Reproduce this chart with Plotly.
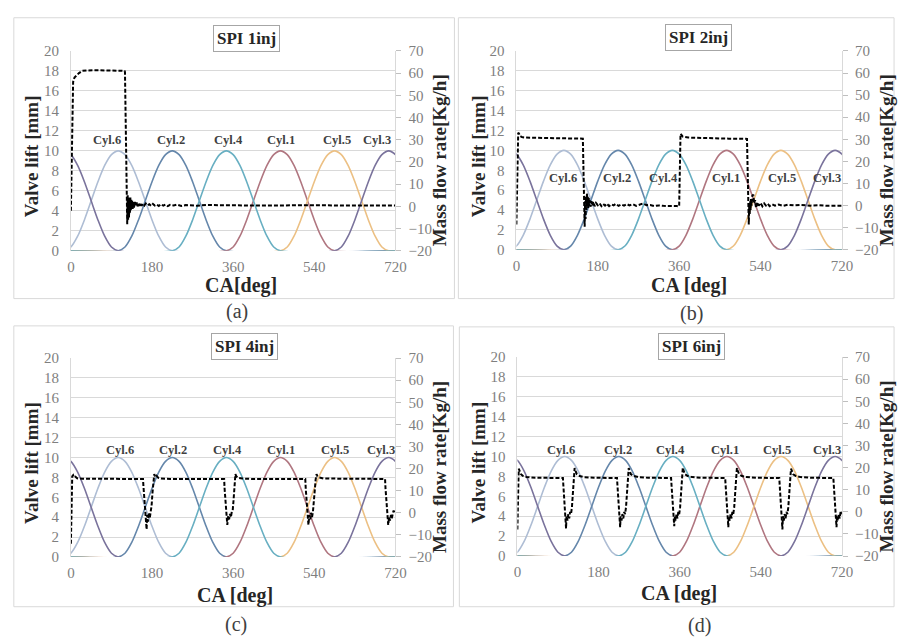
import plotly.graph_objects as go

# ---------------- data ----------------
PANEL_TITLES = ["SPI 1inj", "SPI 2inj", "SPI 4inj", "SPI 6inj"]
PANEL_TAGS = ["(a)", "(b)", "(c)", "(d)"]
X_TITLES = ["CA[deg]", "CA [deg]", "CA [deg]", "CA [deg]"]
X_TICKS = [0, 180, 360, 540, 720]
LEFT_TICKS = [0, 2, 4, 6, 8, 10, 12, 14, 16, 18, 20]
RIGHT_TICKS = [-20, -10, 0, 10, 20, 30, 40, 50, 60, 70]

# valve-lift profile: lift [mm] every 15 deg from opening (240 deg window)
LIFT_STEP_DEG = 15
LIFT_PROFILE = [0, 0.38, 1.46, 3.09, 5.0, 6.91, 8.54, 9.62, 10.0,
                9.62, 8.54, 6.91, 5.0, 3.09, 1.46, 0.38, 0]
CYL_NAMES = ["Cyl.6", "Cyl.2", "Cyl.1", "Cyl.5", "Cyl.3", "Cyl.4"]
CYL_PEAKS = {"Cyl.6": [105], "Cyl.2": [225], "Cyl.4": [345],
             "Cyl.1": [465], "Cyl.5": [585], "Cyl.3": [-15, 705]}
CYL_COLORS = {"Cyl.6": "#aebdd4", "Cyl.2": "#6587ab", "Cyl.4": "#68afc2",
              "Cyl.1": "#b07680", "Cyl.5": "#ecc084", "Cyl.3": "#7a739c"}

# cylinder label positions (deg, valve-lift units) per panel
CYL_LABEL_ORDER = ["Cyl.6", "Cyl.2", "Cyl.4", "Cyl.1", "Cyl.5", "Cyl.3"]
CYL_LABEL_X = [
    [81, 222, 349, 467, 590, 680],
    [104, 223, 326, 463, 587, 687],
    [109, 227, 347, 467, 585, 688],
    [96, 223, 340, 460, 576, 687],
]
CYL_LABEL_Y = [11.1, 7.2, 10.8, 10.7]

# mass flow rate [kg/h] vs crank angle (deg)
FLOW_1INJ = [(0, -2), (1, 10), (2, 30), (3, 48), (5, 56), (8, 58), (12, 59), (18, 60), (25, 61),
             (35, 61.2), (60, 61.3), (90, 61.2), (110, 61), (119, 61), (120, 60.5), (121, 45),
             (122, 20), (123, 5), (124, -4), (125, -8), (126, 5), (127, -6), (128, 4), (129, -5),
             (130, 2), (131, -3), (132, 4), (133, -2), (134, 3), (135, -1), (136, 2.5), (137, -1.5),
             (138, 2), (140, -0.5), (142, 2), (144, 0), (146, 1.8), (148, 0), (150, 1.5), (152, 0.2),
             (154, 1.6), (157, 0.3), (160, 1.2), (163, 0.4), (166, 1.3), (170, 0.5), (174, 1.0),
             (178, 0.2), (182, 1.1), (186, 0.4), (190, 0.9), (195, 0.2), (200, 1.0), (205, 0.3),
             (210, 0.8), (215, 0.1), (220, 0.7), (228, 0.4), (236, 0.8), (245, 0.2), (255, 0.6),
             (265, 0.5), (280, 0.3), (300, 0.6), (330, 0.4), (360, 0.5), (400, 0.4), (450, 0.5),
             (500, 0.4), (550, 0.5), (600, 0.4), (650, 0.5), (720, 0.4)]

FLOW_2INJ = [(0, -8.5), (1, 5), (2, 20), (3, 30), (4, 33), (6, 32.5), (8, 31.5), (12, 31),
             (20, 30.8), (60, 30.6), (100, 30.5), (140, 30.4), (147, 30.3), (148, 20), (149, 5),
             (150, -3), (151, -9.5), (152, 2), (153, -6), (154, 4), (155, -2), (156, 5.5), (157, 0),
             (158, 4), (159, -1), (160, 3.5), (161, 0), (162, 2.5), (164, -0.5), (166, 2), (168, 0),
             (170, 1.8), (173, -0.3), (176, 1.2), (180, 0.2), (184, 1), (188, -0.2), (192, 0.8),
             (196, 0), (200, 0.9), (205, -0.2), (210, 0.6), (215, 0.1), (220, 0.8), (226, -0.1),
             (232, 0.5), (238, 0), (244, 0.7), (250, 0.1), (258, 0.6), (265, -0.1), (272, 0.4),
             (280, 1), (288, 0.2), (296, 0.3), (305, -0.2), (315, 0.1), (325, -0.1), (340, 0),
             (355, -0.2), (360, -0.3), (361, 15), (362, 30), (363, 32.5), (365, 32), (368, 31.2),
             (380, 30.8), (420, 30.5), (470, 30.3), (510, 30.2), (511, 20), (512, 5), (513, -3),
             (514, -8.5), (515, 1), (516, -4), (517, 2), (518, -2), (519, 3), (520, 0), (522, 4.5),
             (524, 5), (526, 1), (528, 2.5), (530, -1), (533, 1.5), (536, 0), (540, 1.2),
             (544, -0.3), (548, 1), (552, 0), (556, 0.8), (560, -0.2), (566, 0.6), (572, 0),
             (580, 0.5), (590, -0.1), (600, 0.4), (615, 0.1), (630, 0.3), (650, 0), (670, 0.2),
             (690, -0.1), (720, 0)]

FLOW_4INJ = [(0, -14), (1, 0), (2, 12), (3, 16.5), (5, 17), (7, 16), (10, 16.3), (14, 15.6),
             (25, 15.4), (60, 15.3), (120, 15.3), (160, 15.3), (161, 12), (163, 6), (165, 1),
             (167, -3), (168, -7.5), (169, -1), (171, -4), (173, 0), (175, -2.5), (177, 0.5),
             (179, 3), (181, 9), (183, 14), (185, 17.5), (187, 16.2), (190, 16.8), (194, 15.8),
             (200, 15.5), (220, 15.3), (300, 15.3), (340, 15.3), (341, 11), (343, 5), (345, -1),
             (347, -5.5), (349, -1.5), (351, -3), (353, -0.5), (355, -2), (357, 0.5), (359, 1),
             (361, 6), (363, 13), (365, 17.5), (367, 16.5), (371, 15.8), (380, 15.5), (400, 15.3),
             (480, 15.3), (520, 15.3), (521, 11), (523, 4), (525, -2), (527, -5.5), (529, -1),
             (531, -3), (533, 0), (535, -2), (537, 0.5), (539, 4), (541, 10), (543, 15),
             (545, 17.5), (547, 16.5), (551, 16), (560, 15.5), (600, 15.4), (650, 15.3),
             (697, 15.3), (698, 11), (700, 4), (702, -1), (704, -5.5), (706, -2), (708, -3.5),
             (710, -1), (712, -2.5), (714, -0.5), (716, 1), (718, 0), (720, -0.5)]

FLOW_6INJ = [(0, -8), (1, 4), (2, 14), (3, 19.5), (5, 18.5), (8, 17), (12, 16.3), (20, 15.8),
             (40, 15.4), (80, 15.3), (101, 15.3), (102, 12), (104, 5), (106, -1), (107, -3.5),
             (108, -7.5), (109, -2), (111, -4), (113, -1), (115, -3), (117, 0), (119, -1),
             (121, 2), (123, 9), (125, 16), (127, 19.8), (129, 18.5), (132, 17), (138, 16.2),
             (148, 15.7), (170, 15.4), (221, 15.3), (222, 12), (224, 5), (226, -1), (227, -3.5),
             (228, -7), (229, -2), (231, -4), (233, -1), (235, -3), (237, 0), (239, -1), (241, 2),
             (243, 9), (245, 16), (247, 19.8), (249, 18.5), (252, 17), (258, 16.2), (268, 15.7),
             (290, 15.4), (341, 15.3), (342, 12), (344, 5), (346, -1), (347, -3.5), (348, -6.5),
             (349, -2), (351, -4), (353, -1), (355, -3), (357, 0), (359, -1), (361, 2), (363, 9),
             (365, 16), (367, 20), (369, 18.5), (372, 17), (378, 16.2), (388, 15.7), (410, 15.4),
             (461, 15.3), (462, 12), (464, 5), (466, -1), (467, -3.5), (468, -7), (469, -2),
             (471, -4), (473, -1), (475, -3), (477, 0), (479, -1), (481, 2), (483, 9), (485, 16),
             (487, 19.8), (489, 18.5), (492, 17), (498, 16.2), (508, 15.7), (530, 15.4),
             (581, 15.3), (582, 12), (584, 5), (586, -1), (587, -3.5), (588, -8), (589, -2),
             (591, -4), (593, -1), (595, -3), (597, 0), (599, -1), (601, 2), (603, 9), (605, 16),
             (607, 19.5), (609, 18.5), (612, 17), (618, 16.2), (628, 15.7), (650, 15.4),
             (701, 15.3), (702, 12), (704, 5), (706, -1), (707, -3.5), (708, -7), (709, -2),
             (711, -4), (713, -1), (715, -3), (717, 0), (719, -1), (720, 0)]

FLOWS = [FLOW_1INJ, FLOW_2INJ, FLOW_4INJ, FLOW_6INJ]

# ---------------- layout geometry (pixels of a 908x643 page) ----------------
W, H = 908, 643
PLOTS = [  # x0, x1, y_top, y_bottom of each plot area
    (68, 398, 44, 249),
    (521, 852, 44, 248),
    (68, 398, 359, 563),
    (522, 852, 358, 562),
]
FRAMES = [(10, 10, 458, 298), (462, 10, 905, 298), (10, 326, 457, 614), (463, 327, 905, 614)]
TITLE_POS = [(247, 31), (706, 30), (245, 347), (699, 347)]
TAG_POS = [(237, 311), (699, 313), (236, 632), (707, 633)]
XTITLE_POS = [(241, 285), (696, 285), (235, 602), (686, 600)]
LTITLE_X = [28, 482, 28, 482]
RTITLE_X = [443, 897, 443, 897]

SERIF = "Liberation Serif"
GRAY = "#7f7f7f"
GRID = "#d9d9d9"

fx = lambda px: px / W
fy = lambda py: 1 - py / H


def paper_note(px, py, text, size, color, angle=0, **kw):
    return dict(x=fx(px), y=fy(py), xref="paper", yref="paper", text=text, showarrow=False,
                xanchor="center", yanchor="middle", textangle=angle,
                font=dict(family=SERIF, size=size, color=color), **kw)


fig = go.Figure()
layout = dict(
    width=W, height=H, margin=dict(l=0, r=0, t=0, b=0),
    paper_bgcolor="white", plot_bgcolor="white", showlegend=False,
    font=dict(family=SERIF, color="#404040"),
)
shapes, annotations = [], []

for i in range(4):
    xa = f"x{i+1}" if i else "x"
    yl = f"y{2*i+1}" if i else "y"
    yr = f"y{2*i+2}"
    x0, x1, yt, yb = PLOTS[i]
    xkey = "xaxis" if i == 0 else f"xaxis{i+1}"
    ylkey = "yaxis" if i == 0 else f"yaxis{2*i+1}"
    yrkey = f"yaxis{2*i+2}"

    layout[xkey] = dict(domain=[fx(x0), fx(x1)], anchor=yl, range=[0, 720],
                        tickvals=X_TICKS, showgrid=False, zeroline=False, showline=False,
                        ticks="", ticklabelstandoff=5,
                        tickfont=dict(family=SERIF, size=15, color=GRAY))
    layout[ylkey] = dict(domain=[fy(yb), fy(yt)], anchor=xa, range=[0, 20],
                         tickvals=LEFT_TICKS, showgrid=True, gridcolor=GRID, gridwidth=1,
                         zeroline=False, showline=True, linecolor=GRID, linewidth=1,
                         ticks="", ticklabelstandoff=8,
                         tickfont=dict(family=SERIF, size=15, color=GRAY))
    layout[yrkey] = dict(overlaying=yl, side="right", anchor=xa, range=[-20, 70],
                         tickvals=RIGHT_TICKS, showgrid=False, zeroline=False,
                         showline=True, linecolor=GRID, linewidth=1,
                         ticks="outside", ticklen=5, tickcolor="#bfbfbf", ticklabelstandoff=4,
                         tickfont=dict(family=SERIF, size=15, color=GRAY))

    # valve-lift curves (zero outside each valve's opening window)
    for name in CYL_NAMES:
        pts = []
        for pk in CYL_PEAKS[name]:
            start = pk - 120
            for k, v in enumerate(LIFT_PROFILE):
                pts.append((start + k * LIFT_STEP_DEG, v))
        pts.sort()
        if pts[0][0] > 0:
            pts.insert(0, (0, 0))
        if pts[-1][0] < 720:
            pts.append((720, 0))
        fig.add_trace(go.Scatter(x=[p[0] for p in pts], y=[p[1] for p in pts], mode="lines",
                                 line=dict(color=CYL_COLORS[name], width=1.6, shape="spline",
                                           smoothing=0.8),
                                 xaxis=xa, yaxis=yl, hoverinfo="skip", name=name))

    # mass flow rate
    ca = [p[0] for p in FLOWS[i]]
    mf = [p[1] for p in FLOWS[i]]
    fig.add_trace(go.Scatter(x=ca, y=mf, mode="lines",
                             line=dict(color="black", width=2, dash="4px,2px"),
                             xaxis=xa, yaxis=yr, name="Mass flow rate"))

    # cylinder labels
    for name, lx in zip(CYL_LABEL_ORDER, CYL_LABEL_X[i]):
        annotations.append(dict(x=lx, y=CYL_LABEL_Y[i], xref=xa, yref=yl, text=f"<b>{name}</b>",
                                showarrow=False, xanchor="center", yanchor="middle",
                                font=dict(family=SERIF, size=12.5, color="#404040")))

    # panel frame
    fxa, fya, fxb, fyb = FRAMES[i]
    shapes.append(dict(type="rect", xref="paper", yref="paper", x0=fx(fxa), x1=fx(fxb),
                       y0=fy(fyb), y1=fy(fya), line=dict(color=GRID, width=1)))

    tx, ty = TITLE_POS[i]
    annotations.append(paper_note(tx, ty, f"<b>{PANEL_TITLES[i]}</b>", 17, "#262626",
                                  bordercolor="#a6a6a6", borderwidth=1, borderpad=3,
                                  bgcolor="white"))
    xx, xy = XTITLE_POS[i]
    annotations.append(paper_note(xx, xy, f"<b>{X_TITLES[i]}</b>", 20, "#262626"))
    annotations.append(paper_note(LTITLE_X[i], (yt + yb) / 2 + 6, "<b>Valve lift [mm]</b>",
                                  19, "#262626", angle=-90))
    annotations.append(paper_note(RTITLE_X[i], (yt + yb) / 2 + 10, "<b>Mass flow rate[Kg/h]</b>",
                                  19, "#262626", angle=-90))
    gx, gy = TAG_POS[i]
    annotations.append(paper_note(gx, gy, PANEL_TAGS[i], 20, "#404040"))

layout["shapes"] = shapes
layout["annotations"] = annotations
fig.update_layout(**layout)
fig.write_html("out.html", config={"displayModeBar": False},
               post_script="document.body.style.margin='0';document.body.style.overflow='hidden';")
